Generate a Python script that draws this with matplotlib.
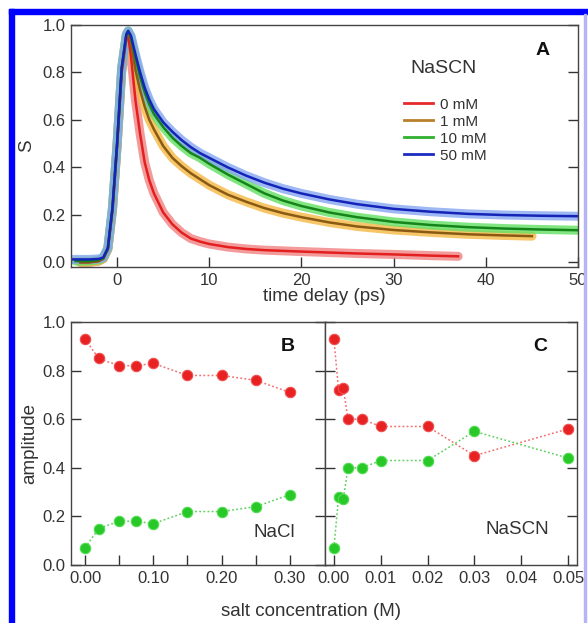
"""
Three panel figure: (A) anisotropy decay S(t) of water in NaSCN solutions,
(B) and (C) amplitudes of the two decay components versus salt concentration.
"""

import matplotlib
matplotlib.use("Agg")
import matplotlib.pyplot as plt
from matplotlib.lines import Line2D
from matplotlib.patches import Rectangle


# Panel A data: S(t) for each NaSCN concentration
t_0mM = [-4, -3, -2, -1.5, -1, -0.5, 0, 0.5, 1.0, 1.2, 1.5, 2, 2.5, 3, 3.5, 4, 5, 6, 7, 8,
         9, 10, 12, 14, 16, 18, 20, 23, 26, 30, 34, 37]
s_0mM = [0.0, 0.0, 0.005, 0.015, 0.055, 0.22, 0.49, 0.80, 0.94, 0.955, 0.87, 0.68, 0.54,
         0.42, 0.345, 0.29, 0.21, 0.16, 0.125, 0.10, 0.087, 0.077, 0.064, 0.056, 0.051,
         0.048, 0.045, 0.041, 0.037, 0.033, 0.028, 0.025]

t_1mM = [-4, -3, -2, -1.5, -1, -0.5, 0, 0.5, 1.0, 1.2, 1.5, 2, 2.5, 3, 3.5, 4, 5, 6, 7, 8,
         9, 10, 12, 14, 16, 18, 20, 23, 26, 30, 34, 38, 42, 45]
s_1mM = [0.0, 0.0, 0.005, 0.015, 0.055, 0.22, 0.49, 0.81, 0.955, 0.97, 0.93, 0.81, 0.725,
         0.655, 0.60, 0.56, 0.49, 0.44, 0.405, 0.375, 0.35, 0.325, 0.285, 0.255, 0.228,
         0.207, 0.19, 0.168, 0.151, 0.136, 0.126, 0.118, 0.113, 0.11]

t_10mM = [-4.5, -3, -2, -1.5, -1, -0.5, 0, 0.5, 1.0, 1.2, 1.5, 2, 2.5, 3, 3.5, 4, 5, 6, 7,
          8, 9, 10, 12, 14, 16, 18, 20, 23, 26, 30, 34, 38, 42, 46, 50]
s_10mM = [0.005, 0.005, 0.01, 0.018, 0.06, 0.23, 0.50, 0.82, 0.96, 0.975, 0.95, 0.86, 0.78,
          0.715, 0.665, 0.625, 0.57, 0.525, 0.49, 0.46, 0.44, 0.415, 0.37, 0.33, 0.29,
          0.26, 0.237, 0.21, 0.19, 0.17, 0.157, 0.148, 0.142, 0.138, 0.135]

t_50mM = [-5, -4, -3, -2, -1.5, -1, -0.5, 0, 0.5, 1.0, 1.2, 1.5, 2, 2.5, 3, 3.5, 4, 5, 6,
          7, 8, 9, 10, 12, 14, 16, 18, 20, 23, 26, 30, 34, 38, 42, 46, 50]
s_50mM = [0.012, 0.012, 0.012, 0.014, 0.02, 0.06, 0.23, 0.50, 0.82, 0.96, 0.975, 0.955,
          0.875, 0.80, 0.735, 0.685, 0.645, 0.59, 0.55, 0.515, 0.485, 0.46, 0.44, 0.40,
          0.365, 0.335, 0.31, 0.29, 0.265, 0.245, 0.225, 0.213, 0.204, 0.199, 0.196, 0.194]

labels_A = ["0 mM", "1 mM", "10 mM", "50 mM"]
dot_colors = ["#f08282", "#f5b842", "#62e062", "#86a6f2"]
fit_colors = ["#e41f1f", "#8a5a12", "#15851a", "#1424b8"]
legend_colors = ["#e62a2a", "#b8802c", "#2fb02f", "#1c2cc0"]

# Panel B data: NaCl
conc_nacl = [0.0, 0.02, 0.05, 0.075, 0.10, 0.15, 0.20, 0.25, 0.30]
fast_nacl = [0.93, 0.85, 0.82, 0.82, 0.83, 0.78, 0.78, 0.76, 0.71]
slow_nacl = [0.07, 0.15, 0.18, 0.18, 0.17, 0.22, 0.22, 0.24, 0.29]

# Panel C data: NaSCN
conc_nascn = [0.0, 0.001, 0.002, 0.003, 0.006, 0.01, 0.02, 0.03, 0.05]
fast_nascn = [0.93, 0.72, 0.73, 0.60, 0.60, 0.57, 0.57, 0.45, 0.56]
slow_nascn = [0.07, 0.28, 0.27, 0.40, 0.40, 0.43, 0.43, 0.55, 0.44]

ticks_A = [0, 10, 20, 30, 40, 50]
ticks_B = [0.0, 0.05, 0.10, 0.15, 0.20, 0.25, 0.30]
ticklabels_B = ["0.00", "", "0.10", "", "0.20", "", "0.30"]
ticks_C = [0.0, 0.01, 0.02, 0.03, 0.04, 0.05]
ticklabels_C = ["0.00", "0.01", "0.02", "0.03", "0.04", "0.05"]
ticks_y = [0.0, 0.2, 0.4, 0.6, 0.8, 1.0]

TEXT = "#333333"
TICK_FS = 12
LABEL_FS = 13.5
plt.rcParams["font.family"] = ["Liberation Sans", "DejaVu Sans"]
plt.rcParams["text.color"] = TEXT
plt.rcParams["axes.labelcolor"] = TEXT
plt.rcParams["xtick.color"] = TEXT
plt.rcParams["ytick.color"] = TEXT


def style_axes(ax):
    for sp in ax.spines.values():
        sp.set_color("#444444")
        sp.set_linewidth(1.0)
    ax.tick_params(direction="in", length=7, width=1, top=False, right=True, pad=4,
                   labelsize=TICK_FS)


def amplitude_panel(ax, conc, fast, slow):
    ax.plot(conc, fast, ls=(0, (1.2, 1.5)), color="#f07070", lw=1.1,
            marker="o", ms=7.5, mfc="#e82222", mec="#f05050", mew=0.8)
    ax.plot(conc, slow, ls=(0, (1.2, 1.5)), color="#60d060", lw=1.1,
            marker="o", ms=7.5, mfc="#28c828", mec="#50dd50", mew=0.8)
    ax.set_ylim(0, 1.0)
    ax.set_yticks(ticks_y)


W, H = 588, 623
fig = plt.figure(figsize=(W / 100, H / 100), dpi=100)

# ---- Panel A ----
axA = fig.add_axes([71 / W, 1 - 267 / H, (578 - 71) / W, (267 - 25) / H])
curves = [(t_0mM, s_0mM), (t_1mM, s_1mM), (t_10mM, s_10mM), (t_50mM, s_50mM)]
for (t, s), c in zip(curves, dot_colors):
    axA.plot(t, s, color=c, lw=6.5, alpha=0.8, solid_capstyle="round",
             solid_joinstyle="round")
for (t, s), c in zip(curves, fit_colors):
    axA.plot(t, s, color=c, lw=1.8, solid_joinstyle="round")
axA.set_xlim(-5, 50)
axA.set_ylim(-0.02, 1.0)
axA.set_xticks(ticks_A)
axA.set_yticks(ticks_y)
axA.set_yticklabels(["%.1f" % v for v in ticks_y])
style_axes(axA)
axA.set_xlabel("time delay (ps)", fontsize=LABEL_FS, labelpad=0)
axA.set_ylabel("S", fontsize=LABEL_FS, labelpad=5)
axA.text(0.93, 0.895, "A", transform=axA.transAxes, fontsize=14, fontweight="bold",
         ha="center", va="center", color="#111111")
axA.text(0.735, 0.82, "NaSCN", transform=axA.transAxes, fontsize=14,
         ha="center", va="center")
handles = [Line2D([], [], color=c, lw=2) for c in legend_colors]
axA.legend(handles, labels_A, loc="upper left", bbox_to_anchor=(0.657, 0.70),
           frameon=False, handlelength=1.9, handletextpad=0.45, labelspacing=0.2,
           borderpad=0, borderaxespad=0, fontsize=11)

# ---- Panel B (NaCl) ----
axB = fig.add_axes([71 / W, 1 - 565 / H, (325 - 71) / W, (565 - 322) / H])
amplitude_panel(axB, conc_nacl, fast_nacl, slow_nacl)
axB.set_xlim(-0.0205, 0.3513)
axB.set_xticks(ticks_B)
axB.set_xticklabels(ticklabels_B)
axB.set_yticklabels(["%.1f" % v for v in ticks_y])
style_axes(axB)
axB.set_ylabel("amplitude", fontsize=LABEL_FS, labelpad=3)
axB.text(0.855, 0.9, "B", transform=axB.transAxes, fontsize=14, fontweight="bold",
         ha="center", va="center", color="#111111")
axB.text(0.80, 0.135, "NaCl", transform=axB.transAxes, fontsize=13.5,
         ha="center", va="center")

# ---- Panel C (NaSCN) ----
axC = fig.add_axes([325 / W, 1 - 565 / H, (577 - 325) / W, (565 - 322) / H])
amplitude_panel(axC, conc_nascn, fast_nascn, slow_nascn)
axC.set_xlim(-0.0019, 0.0519)
axC.set_xticks(ticks_C)
axC.set_xticklabels(ticklabels_C)
axC.set_yticklabels([])
style_axes(axC)
axC.text(0.855, 0.9, "C", transform=axC.transAxes, fontsize=14, fontweight="bold",
         ha="center", va="center", color="#111111")
axC.text(0.765, 0.145, "NaSCN", transform=axC.transAxes, fontsize=13.5,
         ha="center", va="center")

fig.text(311 / W, 1 - 612 / H, "salt concentration (M)", fontsize=LABEL_FS,
         ha="center", va="center")

# blue frame around the figure (top and left bars, thin line at right)
fig.patches.append(Rectangle((9 / W, 1 - 14 / H), 1 - 9 / W, 5 / H,
                             transform=fig.transFigure, color="#0000ff", zorder=5))
fig.patches.append(Rectangle((9 / W, 0), 5 / W, 1 - 9 / H,
                             transform=fig.transFigure, color="#0000ff", zorder=5))
fig.patches.append(Rectangle((584 / W, 0), 2 / W, 1 - 14 / H,
                             transform=fig.transFigure, color="#b4b4f6", zorder=5))

fig.savefig("out.png", dpi=100)
